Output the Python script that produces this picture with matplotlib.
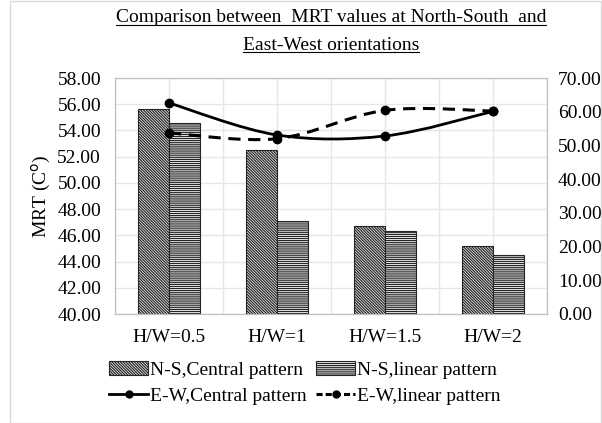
import matplotlib.pyplot as plt
import numpy as np
from matplotlib.path import Path
from matplotlib.patches import PathPatch, Rectangle, Patch
from matplotlib.lines import Line2D
from matplotlib.ticker import MultipleLocator, FormatStrFormatter

plt.rcParams['font.family'] = ['Liberation Serif', 'DejaVu Serif']
plt.rcParams['hatch.linewidth'] = 0.9

categories = ["H/W=0.5", "H/W=1", "H/W=1.5", "H/W=2"]
ns_central = [55.6, 52.5, 46.7, 45.2]
ns_linear = [54.6, 47.1, 46.3, 44.5]
ew_central = [62.6, 53.1, 52.8, 60.1]
ew_linear = [53.7, 52.0, 60.4, 60.2]

title_lines = ["Comparison between  MRT values at North-South  and",
               "East-West orientations"]

hatch_central = '\\' * 12
hatch_linear = '-' * 8


def smooth_path(xs, ys):
    # excel style smoothed line: bezier segments, catmull-rom control points
    pts = np.column_stack([xs, ys]).astype(float)
    n = len(pts)
    verts = [pts[0]]
    codes = [Path.MOVETO]
    for i in range(n - 1):
        p0 = pts[i - 1] if i > 0 else pts[i]
        p1 = pts[i]
        p2 = pts[i + 1]
        p3 = pts[i + 2] if i + 2 < n else pts[i + 1]
        c1 = p1 + (p2 - p0) / 6.0
        c2 = p2 - (p3 - p1) / 6.0
        verts += [c1, c2, p2]
        codes += [Path.CURVE4] * 3
    return Path(verts, codes)


fig = plt.figure(figsize=(6.02, 4.23), dpi=100)
ax = fig.add_axes([115 / 602, 1 - 314 / 423, 432 / 602, 236 / 423])

x = np.arange(len(categories))
w = 0.29
ax.bar(x - w / 2, ns_central, w, bottom=0, color='white', edgecolor='#262626',
       hatch=hatch_central, linewidth=0.8, zorder=2)
ax.bar(x + w / 2, ns_linear, w, bottom=0, color='white', edgecolor='#262626',
       hatch=hatch_linear, linewidth=0.8, zorder=2)
ax.set_ylim(40, 58)
ax.set_xlim(-0.5, len(categories) - 0.5)
ax.yaxis.set_major_locator(MultipleLocator(2))
ax.yaxis.set_major_formatter(FormatStrFormatter('%.2f'))
ax.set_xticks(x)
ax.set_xticklabels(categories)
ax.set_xticks(np.arange(len(categories) + 1) - 0.5, minor=True)
ax.grid(True, which='both', color='#e6e6e6', linewidth=1, zorder=0)
ax.set_axisbelow(True)
ax.tick_params(length=0, labelsize=14, which='both')
ax.tick_params(axis='x', pad=11)
ax.tick_params(axis='y', pad=10)
ax.set_ylabel('MRT (C$^{\\rm o}$)', fontsize=14, labelpad=3)
for s in ax.spines.values():
    s.set_color('#bfbfbf')

ax2 = ax.twinx()
ax2.set_ylim(0, 70)
ax2.yaxis.set_major_locator(MultipleLocator(10))
ax2.yaxis.set_major_formatter(FormatStrFormatter('%.2f'))
ax2.tick_params(length=0, labelsize=14, pad=8)
for s in ax2.spines.values():
    s.set_color('#bfbfbf')

ax2.add_patch(PathPatch(smooth_path(x, ew_central), fill=False, edgecolor='black',
                        linewidth=2, zorder=3))
ax2.add_patch(PathPatch(smooth_path(x, ew_linear), fill=False, edgecolor='black',
                        linewidth=2.2, linestyle=(0, (4, 2.5)), zorder=3))
ax2.plot(x, ew_central, 'o', color='black', markersize=6, zorder=4)
ax2.plot(x, ew_linear, 'o', color='black', markersize=6, zorder=4)

handles = [
    Patch(facecolor='white', edgecolor='#262626', hatch=hatch_central, linewidth=0.8),
    Line2D([], [], color='black', linewidth=2, marker='o', markersize=5),
    Patch(facecolor='white', edgecolor='#262626', hatch=hatch_linear, linewidth=0.8),
    Line2D([], [], color='black', linewidth=2.2, linestyle=(0, (2, 1)), marker='o', markersize=5),
]
labels = ["N-S,Central pattern", "E-W,Central pattern",
          "N-S,linear pattern", "E-W,linear pattern"]
fig.legend(handles, labels, ncol=2, loc='center', bbox_to_anchor=(305 / 602, 1 - 383 / 423),
           frameon=False, fontsize=14, handlelength=2.0, handletextpad=0.1,
           columnspacing=0.5, labelspacing=0.45, borderaxespad=0)

# title, underlined
fig.canvas.draw()
renderer = fig.canvas.get_renderer()
for line, yy in zip(title_lines, [18, 45]):
    t = fig.text(331 / 602, 1 - yy / 423, line, ha='center', va='center', fontsize=14)
    bb = t.get_window_extent(renderer)
    yline = (bb.y0 + 1) / fig.bbox.height
    fig.add_artist(Line2D([bb.x0 / fig.bbox.width, bb.x1 / fig.bbox.width], [yline, yline],
                          color='black', linewidth=0.8, transform=fig.transFigure))

fig.add_artist(Rectangle((10 / 602, 0.5 / 423), 591 / 602, 421 / 423, fill=False,
                         edgecolor='#d9d9d9', linewidth=1, transform=fig.transFigure))

fig.savefig('out.png', dpi=100)
